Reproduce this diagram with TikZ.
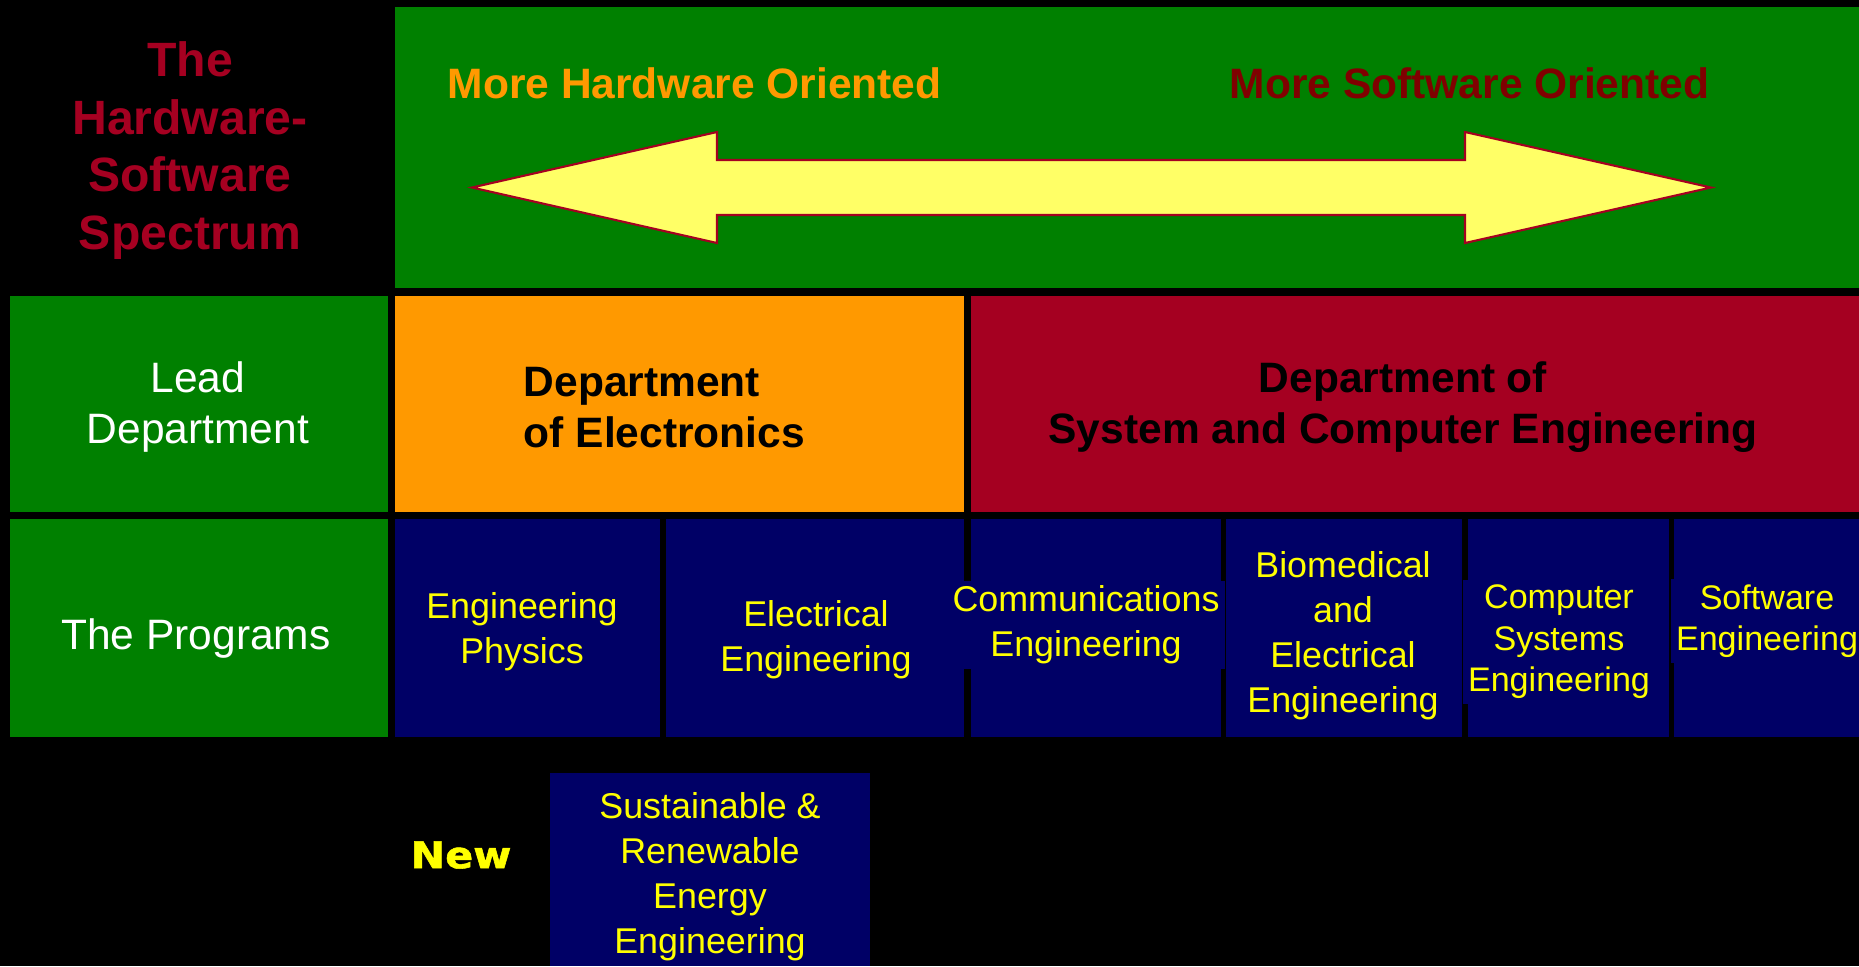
\documentclass[tikz,border=0pt]{standalone}
\usepackage{fontspec}
\setmainfont{Liberation Sans}
\newfontfamily\blackfont[FakeStretch=1.12,FakeBold=1.5]{DejaVu Sans}
\usepackage{xcolor}
\usepackage{tikz}

\definecolor{spgreen}{RGB}{0,128,0}
\definecolor{sporange}{RGB}{255,153,0}
\definecolor{spred}{RGB}{165,0,33}
\definecolor{spmaroon}{RGB}{128,0,0}
\definecolor{spnavy}{RGB}{0,0,102}
\definecolor{spyellow}{RGB}{255,255,0}
\definecolor{sparrow}{RGB}{255,255,102}

\begin{document}
\begin{tikzpicture}[
    progtext/.style={fill=spnavy, text=spyellow, align=center, inner sep=1.5pt,
      font=\fontsize{10.2}{12.8}\selectfont},
    progsmall/.style={progtext, font=\fontsize{9.7}{11.8}\selectfont},
    labeltext/.style={text=white, align=center, font=\fontsize{12.1}{14.5}\selectfont},
    depttext/.style={text=black, inner sep=0pt, font=\fontsize{12.1}{14.5}\selectfont\bfseries}]
  \fill[black] (0,0) rectangle (18.59,-9.66);
  \useasboundingbox (0,0) rectangle (18.59,-9.66);

  % top band with the double arrow
  \fill[spgreen] (3.95,-0.07) rectangle (18.59,-2.88);
  \draw[fill=sparrow, draw=spred, line width=0.6pt]
    (4.72,-1.875) -- (7.17,-1.32) -- (7.17,-1.60) -- (14.65,-1.60) -- (14.65,-1.32)
    -- (17.11,-1.875) -- (14.65,-2.43) -- (14.65,-2.15) -- (7.17,-2.15) -- (7.17,-2.43) -- cycle;
  \node[text=spred, align=center, font=\fontsize{13.7}{16.4}\selectfont\bfseries] (title)
    at (1.90,-1.505) {The\\Hardware-\\Software\\Spectrum};
  \node[text=sporange, anchor=west, inner sep=0pt, font=\fontsize{12.1}{14.5}\selectfont\bfseries] (hw)
    at (4.47,-0.83) {More Hardware Oriented};
  \node[text=spmaroon, anchor=west, inner sep=0pt, font=\fontsize{12.1}{14.5}\selectfont\bfseries] (sw)
    at (12.29,-0.83) {More Software Oriented};

  % departments
  \fill[spgreen] (0.095,-2.96) rectangle (3.88,-5.12);
  \fill[sporange] (3.95,-2.96) rectangle (9.64,-5.12);
  \fill[spred] (9.71,-2.96) rectangle (18.59,-5.12);
  \node[labeltext] (lead) at (1.98,-4.07) {Lead\\Department};
  \node[depttext, anchor=west, align=left] (elecdept) at (5.23,-4.075) {Department\\of Electronics};
  \node[depttext, align=center] (scedept) at (14.03,-4.07) {Department of\\System and Computer Engineering};

  % programs
  \fill[spgreen] (0.095,-5.19) rectangle (3.88,-7.37);
  \fill[spnavy] (3.95,-5.19) rectangle (6.60,-7.37);
  \fill[spnavy] (6.66,-5.19) rectangle (9.64,-7.37);
  \fill[spnavy] (9.71,-5.19) rectangle (12.21,-7.37);
  \fill[spnavy] (12.26,-5.19) rectangle (14.62,-7.37);
  \fill[spnavy] (14.68,-5.19) rectangle (16.69,-7.37);
  \fill[spnavy] (16.74,-5.19) rectangle (18.59,-7.37);
  \node[labeltext] (progs) at (1.96,-6.385) {The Programs};
  \node[progtext] (phys) at (5.22,-6.315) {Engineering\\Physics};
  \node[progtext] (elec) at (8.16,-6.395) {Electrical\\Engineering};
  \node[progtext] (comm) at (10.86,-6.25) {Communications\\Engineering};
  \node[progtext] (bio) at (13.43,-6.36) {Biomedical\\and\\Electrical\\Engineering};
  \node[progsmall] (csys) at (15.59,-6.42) {Computer\\Systems\\Engineering};
  \node[progsmall] (soft) at (17.67,-6.21) {Software\\Engineering};

  % new program
  \fill[spnavy] (5.50,-7.73) rectangle (8.70,-9.66);
  \node[text=spyellow, font=\blackfont\bfseries\fontsize{10.5}{12}\selectfont] (new) at (4.61,-8.55) {New};
  \node[progtext] (sree) at (7.10,-8.765) {Sustainable \&\\Renewable\\Energy\\Engineering};
\end{tikzpicture}
\end{document}
